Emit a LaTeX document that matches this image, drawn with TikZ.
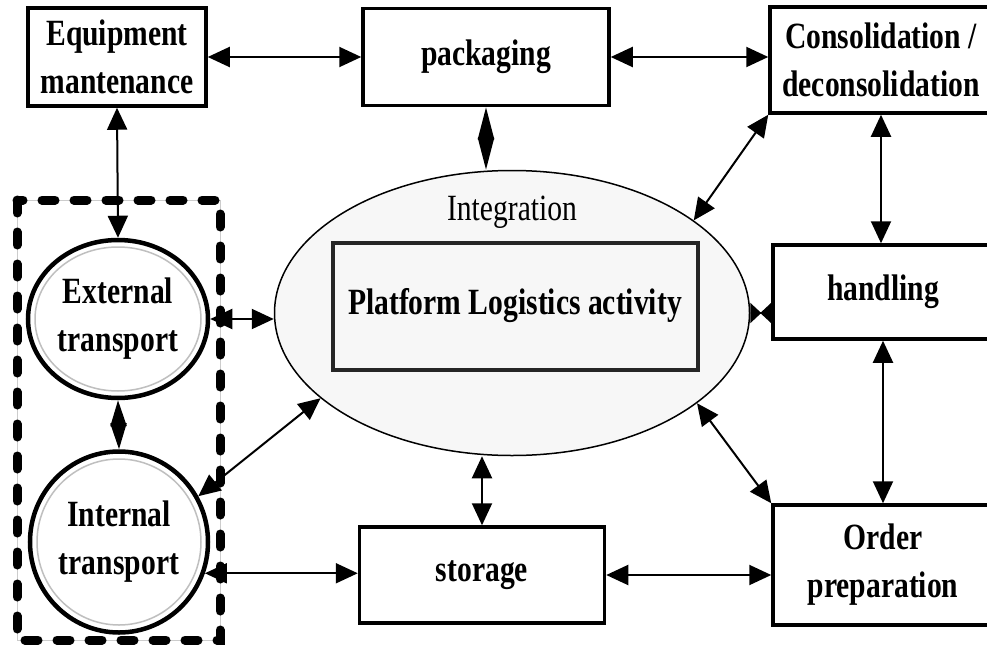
\documentclass[tikz,border=0pt]{standalone}
\usepackage{fontspec}
\setmainfont[FakeStretch=0.8]{Liberation Serif}
\usetikzlibrary{arrows.meta,shapes.geometric}

\begin{document}
\begin{tikzpicture}[x=1pt,y=-1pt,
  txt/.style={font=\fontsize{37}{48}\selectfont, align=center, inner sep=0pt},
  box/.style={txt, draw, line width=3.5pt, font=\fontsize{37}{48}\selectfont\bfseries},
  ring/.style={box, ellipse, line width=4.5pt, fill=white, inner sep=-20pt},
  link/.style={line width=2pt, <->, >={Triangle[length=22pt,width=20pt]}},
  diam/.style={line width=2pt, <->, >={Triangle[length=#1,width=16pt]}},
  bow/.style={line width=2pt, arrows={Triangle[reversed,length=11pt,width=20pt]-Triangle[reversed,length=11pt,width=20pt]}}]
\useasboundingbox (0,0) rectangle (987,650);
\clip (0,0) rectangle (987,650);
% transport group
\draw[gray!40, line width=1pt] (17,200) rectangle (220,640);
\draw[line width=9pt, line cap=round, dash pattern=on 13pt off 19pt] (17,200) rectangle (220,640);
% boxes
\node[box, minimum width=178pt, minimum height=98pt] (equip) at (117,57) {Equipment\\mantenance};
\node[box, minimum width=246pt, minimum height=97pt] (pack) at (486,57) {packaging};
\node[box, minimum width=222pt, minimum height=106pt] (consol) at (881,60) {Consolidation /\\deconsolidation};
\node[box, minimum width=220pt, minimum height=94pt] (hand) at (883,292) {handling};
\node[box, minimum width=220pt, minimum height=120pt] (order) at (883,565) {Order\\preparation};
\node[box, minimum width=245pt, minimum height=96pt] (store) at (482,575) {storage};
% centre
\node[ellipse, draw, line width=1.5pt, fill=gray!6, minimum width=475pt, minimum height=285pt] (ell) at (512,313) {};
\node[txt, anchor=base] (integ) at (512,220) {Integration};
\node[box, draw=black!85, line width=4pt, minimum width=365pt, minimum height=127pt] (plat) at (515,306) {Platform Logistics activity};
% transport
\node[ring, minimum width=180pt, minimum height=158pt] (ext) at (118,319) {External\\transport};
\draw[gray!50, line width=1.5pt] (ext.center) ellipse [x radius=83, y radius=72];
\node[ring, minimum width=178pt, minimum height=181pt] (int) at (119,542) {Internal\\transport};
\draw[gray!50, line width=1.5pt] (int.center) ellipse [x radius=82, y radius=83];
% links
\draw[link] (equip.east) -- (pack.west);
\draw[link] (pack.east) -- (pack.east -| consol.west);
\draw[diam=32pt] (pack.south) -- (pack.south |- ell.north);
\draw[link] (equip.south) -- (ext.north);
\draw[diam=26pt] (ext.south) -- (int.north);
\draw[link] (ext.east) -- (ext.east -| ell.west);
\draw[link] (int.30) -- (ell.204);
\draw[link] (int.-20) -- (int.-20 -| store.west);
\draw[link] (ell.27) -- (consol.south west);
\draw[link] (consol.south) -- (consol.south |- hand.north);
\draw[bow] (ell.east) -- (ell.east -| hand.west);
\draw[link] (hand.south) -- (order.north);
\draw[link] (ell.-26) -- (order.north west);
\draw[link] (ell.south -| store.north) -- (store.north);
\draw[link] (store.east) -- (store.east -| order.west);
\end{tikzpicture}
\end{document}
